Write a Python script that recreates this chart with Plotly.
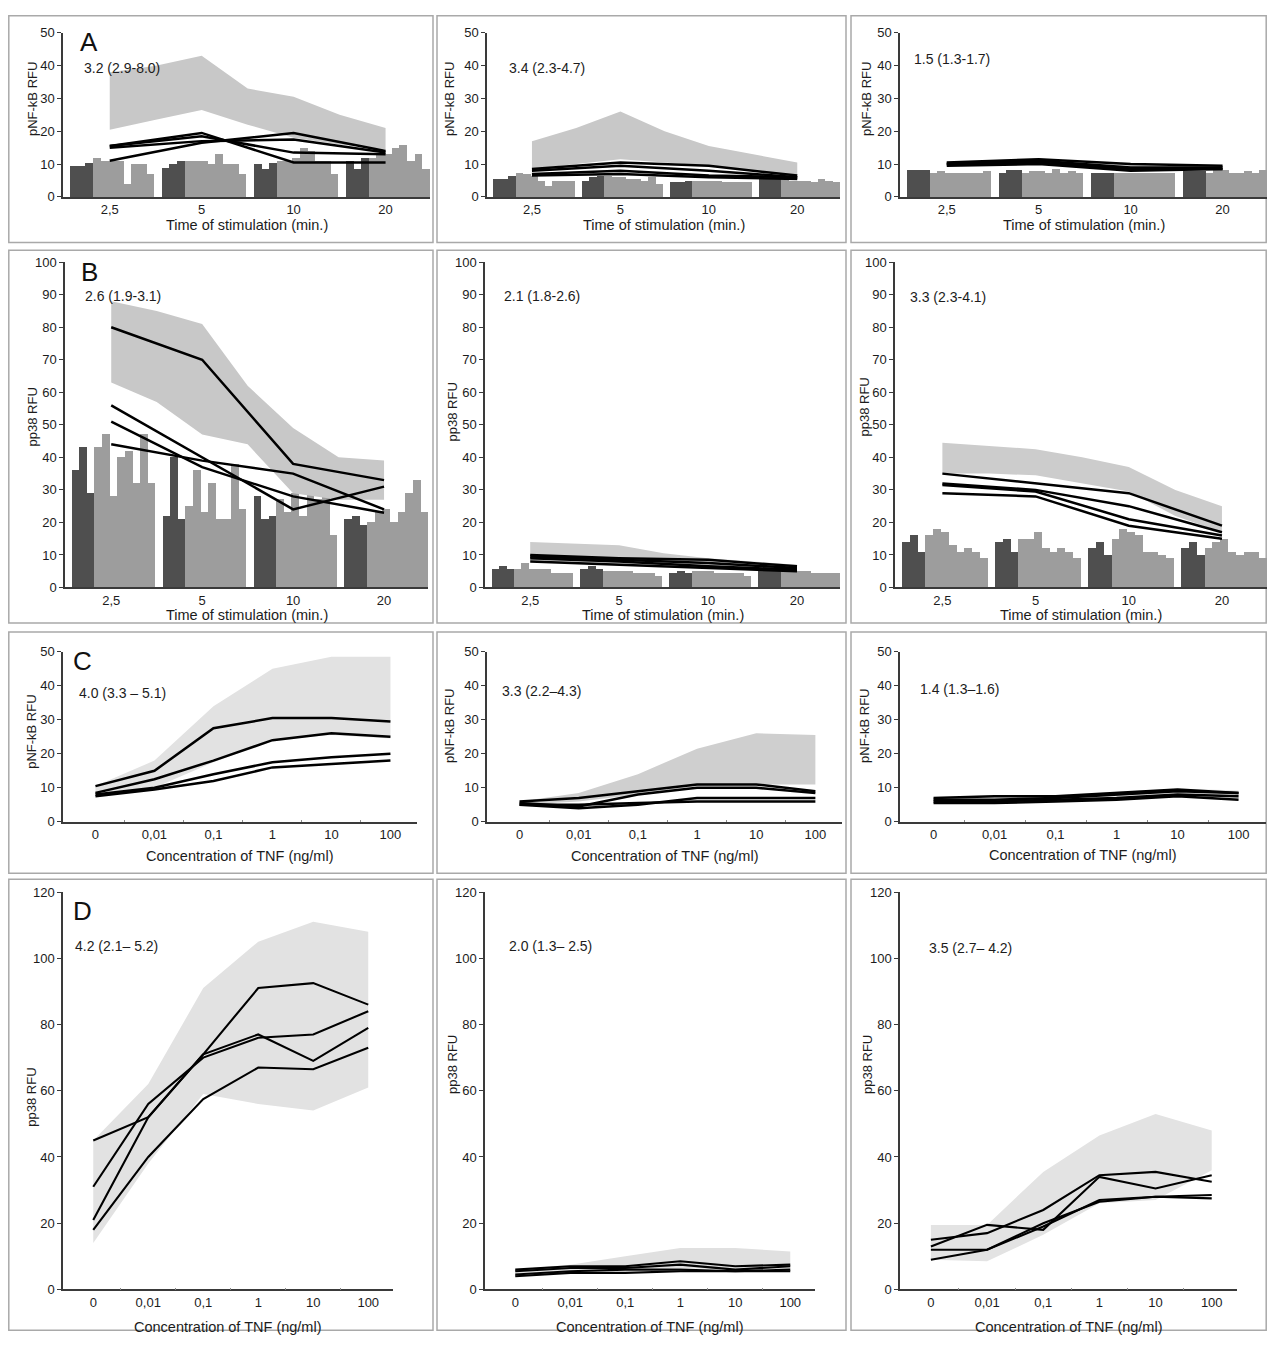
import plotly.graph_objects as go

PAGE_W, PAGE_H = 1275, 1347
OFF = 8                      # default body margin of the html page
W, H = PAGE_W - 2 * OFF, PAGE_H - 2 * OFF

# ---------------- shared labels ----------------
TIME_LABELS = ["2,5", "5", "10", "20"]
DOSE_LABELS = ["0", "0,01", "0,1", "1", "10", "100"]
TIME_T = [0, 1, 2, 3]
BAND_T = [0, 0.5, 1, 1.5, 2, 2.5, 3]
DOSE_X = [0, 1, 2, 3, 4, 5]
DOSE_MINOR = [0.5, 1.5, 2.5, 3.5, 4.5]
TITLE_TIME = "Time of stimulation (min.)"
TITLE_DOSE = "Concentration of TNF (ng/ml)"
YT_NFKB = "pNF-kB RFU"
YT_P38 = "pp38 RFU"

# ---------------- row A : pNF-kB, time course ----------------
A1_dark = [[9.5, 9.5, 10.5], [9, 10, 11], [10, 8.5, 10.5], [11, 8.5, 12]]
A1_light = [[12, 11, 11, 11, 4, 10, 10, 7], [11, 11, 11, 10, 13, 10, 10, 7],
            [11, 11, 12, 15, 14, 11, 11, 7], [12, 13, 13, 15, 16, 11, 13, 8.5]]
A1_upper = [38, 40, 43, 33, 30.5, 25, 21]
A1_lower = [20.5, 23.5, 26.5, 22, 18, 16, 14.5]
A1_lines = [[15.5, 19.5, 10.5, 10.5], [15.5, 18.5, 13.5, 13],
            [11, 16.5, 19.5, 14], [15, 17, 17.5, 13.5]]
A1_stat = "3.2 (2.9-8.0)"

A2_dark = [[5.5, 5.5, 6.5], [5, 6, 6.5], [4.5, 4.5, 5], [5.5, 5.5, 5.5]]
A2_light = [[7.5, 7, 6.5, 5, 3.5, 5, 5, 5], [6.5, 6, 6, 5.5, 5.5, 5, 6, 4],
            [5, 5, 5, 5, 4.5, 4.5, 4.5, 4.5], [5.5, 5, 5, 5, 4.5, 5.5, 5, 4.5]]
A2_upper = [17, 21, 26, 20, 15.5, 13, 10.5]
A2_lower = [8.5, 10, 11.5, 10.5, 9.5, 8, 6.5]
A2_lines = [[8.5, 10.5, 9.5, 6.5], [8, 9.5, 8, 6], [7, 8, 6.5, 6], [6.5, 7, 6, 5.5]]
A2_stat = "3.4 (2.3-4.7)"

A3_dark = [[8.3, 8.3, 8.3], [7.5, 8.3, 8.3], [7.5, 7.5, 7.5], [8, 8, 8]]
A3_light = [[7.5, 8, 7.5, 7.5, 7.5, 7.5, 7.5, 8], [7.5, 8, 8, 7.5, 8.5, 7.5, 8, 7.5],
            [7.5, 7.5, 7.5, 7.5, 7.5, 7.5, 7.5, 7.5], [7.5, 8.3, 8.3, 7.5, 7.5, 8, 7.5, 8.3]]
A3_upper = [10.7, 11.2, 11.7, 10.8, 10.1, 9.7, 9.6]
A3_lower = [9.6, 9.8, 10, 9, 8.2, 8.2, 8.6]
A3_lines = [[10.5, 11.5, 10, 9.5], [10, 11, 9, 9], [10, 10.5, 8.5, 8.5], [9.5, 10, 8, 8.5]]
A3_stat = "1.5 (1.3-1.7)"

# ---------------- row B : pp38, time course ----------------
B1_dark = [[36, 43, 29], [22, 40, 21], [28, 21, 22], [21, 22, 19]]
B1_light = [[43, 47, 28, 40, 42, 32, 47, 32], [25, 36, 23, 32, 21, 21, 38, 24],
            [27, 23, 29, 22, 29, 27, 29, 16], [20, 23, 24, 20, 23, 29, 33, 23]]
B1_upper = [88, 85, 81, 62, 49, 40, 39]
B1_lower = [63, 57, 47, 44, 29, 27, 27]
B1_lines = [[80, 70, 38, 33], [56, 40, 24, 31], [51, 37, 28, 23], [44, 39, 35, 24]]
B1_stat = "2.6 (1.9-3.1)"

B2_dark = [[5.5, 6.5, 5.5], [5.5, 6.5, 5.5], [4.5, 5, 4.5], [5, 5, 5]]
B2_light = [[5.5, 7.5, 5.5, 5.5, 5.5, 4.5, 4.5, 4.5], [5, 5, 5, 5, 4.5, 4.5, 4.5, 3.5],
            [5, 5, 5, 4.5, 4.5, 4.5, 4.5, 3.5], [5.5, 5.5, 5, 5, 4.5, 4.5, 4.5, 4.5]]
B2_upper = [14, 13.5, 13, 10.5, 9, 8, 7]
B2_lower = [8, 7.5, 7, 6.5, 6, 5.5, 5]
B2_lines = [[10, 9, 8.5, 6.5], [9.5, 8.5, 7.5, 6], [9, 8, 6.5, 5.5], [8, 7, 6, 5]]
B2_stat = "2.1 (1.8-2.6)"

B3_dark = [[14, 16, 11], [14, 15, 11], [12, 14, 10], [12, 14, 10]]
B3_light = [[16, 18, 17, 13, 11, 12, 11, 9], [15, 15, 17, 12, 11, 12, 11, 9],
            [15, 18, 17, 16, 11, 11, 10, 9], [12, 14, 15, 11, 10, 11, 11, 9]]
B3_upper = [44.5, 43.5, 42.5, 40, 37, 30, 25]
B3_lower = [35, 35, 34.5, 32, 29.5, 22, 17]
B3_lines = [[35, 32, 29, 19], [32, 30, 25, 17], [31.5, 29.5, 21, 16], [29, 28, 19, 15]]
B3_stat = "3.3 (2.3-4.1)"

# ---------------- row C : pNF-kB, TNF dose ----------------
C1_upper = [10.5, 18, 34, 45, 48.5, 48.5]
C1_lower = [8, 10, 17.5, 24, 25.5, 24.5]
C1_lines = [[10.5, 15, 27.5, 30.5, 30.5, 29.5], [8.5, 12.5, 18, 24, 26, 25],
            [8, 10, 14, 17.5, 19, 20], [7.5, 9.5, 12, 16, 17, 18]]
C1_stat = "4.0 (3.3 \u2013 5.1)"

C2_upper = [6, 8.5, 14, 21.5, 26, 25.5]
C2_lower = [5, 6, 8, 10.5, 11, 11]
C2_lines = [[6, 7, 9, 11, 11, 9], [5.5, 4.5, 8, 10, 10, 8.5],
            [5, 4, 5, 7, 7, 7], [5, 5, 5.5, 6, 6, 6]]
C2_stat = "3.3 (2.2\u20134.3)"

C3_upper = [7.3, 7.8, 7.8, 8.8, 9.8, 9.2]
C3_lower = [5.8, 5.8, 6.2, 6.8, 7.8, 6.8]
C3_lines = [[7, 7.5, 7.5, 8.5, 9.5, 8.5], [6.5, 6.5, 7, 8, 9, 8.5],
            [6, 6, 6.5, 7, 8, 7.5], [5.5, 5.5, 6, 6.5, 7.5, 6.5]]
C3_stat = "1.4 (1.3\u20131.6)"

# ---------------- row D : pp38, TNF dose ----------------
D1_upper = [45, 62, 91, 105, 111, 108]
D1_lower = [14, 38, 59, 56, 54, 61]
D1_lines = [[45, 52, 71, 91, 92.5, 86], [31, 56, 70, 76, 77, 84],
            [21, 52, 71, 77, 69, 79], [18, 40, 57.5, 67, 66.5, 73]]
D1_stat = "4.2 (2.1\u2013 5.2)"

D2_upper = [6, 7.5, 10, 12.5, 12.5, 11.5]
D2_lower = [4, 5, 6, 6.5, 6, 6]
D2_lines = [[6, 7, 7, 8.5, 7, 7.5], [5.5, 6.5, 6.5, 7.5, 6, 7],
            [4.5, 5.5, 6, 6, 5.5, 6], [4, 5, 5, 5.5, 5.5, 5.5]]
D2_stat = "2.0 (1.3\u2013 2.5)"

D3_upper = [19.5, 19.5, 35.5, 46.5, 53, 48]
D3_lower = [9, 8.5, 16.5, 26, 27, 36]
D3_lines = [[15, 17, 24, 34.5, 35.5, 32.5], [13, 19.5, 18, 34, 30.5, 34.5],
            [12, 12, 19, 27, 28, 28.5], [9, 12, 20, 26.5, 28, 27.5]]
D3_stat = "3.5 (2.7\u2013 4.2)"

# ---------------- styling / geometry (page pixel coordinates) ----------------
FONT = "Liberation Sans, Arial, Helvetica, sans-serif"
TXT = "#1c1c1c"
DARK_BAR = "#4f4f4f"
LIGHT_BAR = "#9d9d9d"

panels = [
    dict(kind="time", dark=A1_dark, light=A1_light, up=A1_upper, lo=A1_lower, lines=A1_lines,
         stat=A1_stat, ymax=50, dtick=10, band="#c8c8c8", rect=(63, 430, 26, 192), yt=YT_NFKB,
         letter="A", stat_xy=(82, 62), ytxy=(32, 93), xt=TITLE_TIME, xty=220),
    dict(kind="time", dark=A2_dark, light=A2_light, up=A2_upper, lo=A2_lower, lines=A2_lines,
         stat=A2_stat, ymax=50, dtick=10, band="#c8c8c8", rect=(487, 840, 26, 192), yt=YT_NFKB,
         letter=None, stat_xy=(507, 62), ytxy=(449, 93), xt=TITLE_TIME, xty=220),
    dict(kind="time", dark=A3_dark, light=A3_light, up=A3_upper, lo=A3_lower, lines=A3_lines,
         stat=A3_stat, ymax=50, dtick=10, band="#d4d4d4", rect=(900, 1267, 26, 192), yt=YT_NFKB,
         letter=None, stat_xy=(912, 53), ytxy=(866, 93), xt=TITLE_TIME, xty=220),
    dict(kind="time", dark=B1_dark, light=B1_light, up=B1_upper, lo=B1_lower, lines=B1_lines,
         stat=B1_stat, ymax=100, dtick=10, band="#c8c8c8", rect=(65, 428, 258, 587), yt=YT_P38,
         letter="B", stat_xy=(83, 292), ytxy=(32, 415), xt=TITLE_TIME, xty=615),
    dict(kind="time", dark=B2_dark, light=B2_light, up=B2_upper, lo=B2_lower, lines=B2_lines,
         stat=B2_stat, ymax=100, dtick=10, band="#cccccc", rect=(485, 840, 258, 587), yt=YT_P38,
         letter=None, stat_xy=(502, 292), ytxy=(452, 410), xt=TITLE_TIME, xty=615),
    dict(kind="time", dark=B3_dark, light=B3_light, up=B3_upper, lo=B3_lower, lines=B3_lines,
         stat=B3_stat, ymax=100, dtick=10, band="#cccccc", rect=(895, 1267, 258, 587), yt=YT_P38,
         letter=None, stat_xy=(908, 293), ytxy=(865, 405), xt=TITLE_TIME, xty=615),
    dict(kind="dose", up=C1_upper, lo=C1_lower, lines=C1_lines,
         stat=C1_stat, ymax=50, dtick=10, band="#e2e2e2", rect=(63, 417, 652, 824), yt=YT_NFKB,
         letter="C", stat_xy=(77, 694), ytxy=(32, 733), xt=TITLE_DOSE, xty=859),
    dict(kind="dose", up=C2_upper, lo=C2_lower, lines=C2_lines,
         stat=C2_stat, ymax=50, dtick=10, band="#cfcfcf", rect=(487, 842, 652, 824), yt=YT_NFKB,
         letter=None, stat_xy=(500, 692), ytxy=(450, 727), xt=TITLE_DOSE, xty=859),
    dict(kind="dose", up=C3_upper, lo=C3_lower, lines=C3_lines,
         stat=C3_stat, ymax=50, dtick=10, band="#e6e6e6", rect=(900, 1266, 652, 824), yt=YT_NFKB,
         letter=None, stat_xy=(918, 690), ytxy=(865, 727), xt=TITLE_DOSE, xty=858),
    dict(kind="dose", up=D1_upper, lo=D1_lower, lines=D1_lines,
         stat=D1_stat, ymax=120, dtick=20, band="#e2e2e2", rect=(63, 393, 895, 1297), yt=YT_P38,
         letter="D", stat_xy=(73, 950), ytxy=(32, 1103), xt=TITLE_DOSE, xty=1335),
    dict(kind="dose", up=D2_upper, lo=D2_lower, lines=D2_lines,
         stat=D2_stat, ymax=120, dtick=20, band="#e0e0e0", rect=(485, 815, 895, 1297), yt=YT_P38,
         letter=None, stat_xy=(507, 950), ytxy=(452, 1070), xt=TITLE_DOSE, xty=1335),
    dict(kind="dose", up=D3_upper, lo=D3_lower, lines=D3_lines,
         stat=D3_stat, ymax=120, dtick=20, band="#e3e3e3", rect=(900, 1237, 895, 1297), yt=YT_P38,
         letter=None, stat_xy=(927, 952), ytxy=(867, 1070), xt=TITLE_DOSE, xty=1335),
]

letter_pos = {"A": (78, 35), "B": (79, 268), "C": (71, 661), "D": (71, 914)}
boxes_x = [(8.8, 433), (437, 846), (851, 1266.2)]
boxes_y = [(8.8, 238), (246, 623), (632, 876), (882, 1338.2)]


def clamp(v):
    return max(0.0, min(1.0, v))


def px(x):
    return (x - OFF) / W


def py(y):
    return 1 - (y - OFF) / H


def slot(t):
    return 12 * t + 4.7


fig = go.Figure()
annotations = []
shapes = []
layout_axes = {}

for i, p in enumerate(panels, start=1):
    xa = "x" if i == 1 else f"x{i}"
    ya = "y" if i == 1 else f"y{i}"
    x0, x1, y0, y1 = p["rect"]

    if p["kind"] == "time":
        dx, dy, lx, ly = [], [], [], []
        for g in range(4):
            for k, v in enumerate(p["dark"][g]):
                dx.append(12 * g + k)
                dy.append(v)
            for k, v in enumerate(p["light"][g]):
                lx.append(12 * g + 3 + k)
                ly.append(v)
        fig.add_trace(go.Bar(x=dx, y=dy, width=1.04, marker=dict(color=DARK_BAR, line=dict(width=0)),
                             xaxis=xa, yaxis=ya, showlegend=False, hoverinfo="skip"))
        fig.add_trace(go.Bar(x=lx, y=ly, width=1.04, marker=dict(color=LIGHT_BAR, line=dict(width=0)),
                             xaxis=xa, yaxis=ya, showlegend=False, hoverinfo="skip"))
        bx = [slot(t) for t in BAND_T]
        lxs = [slot(t) for t in TIME_T]
        xrange = [-1.4, 46.5]
        tickvals = lxs
        ticktext = TIME_LABELS
        minor = None
        lw = 2.5
    else:
        bx = list(DOSE_X)
        lxs = list(DOSE_X)
        xrange = [-0.55, 5.45]
        tickvals = DOSE_X
        ticktext = DOSE_LABELS
        minor = dict(tickmode="array", tickvals=DOSE_MINOR, ticks="inside", ticklen=2,
                     tickwidth=1, tickcolor="#8a8a8a", showgrid=False)
        lw = 2.5 if p["ymax"] == 50 else 2.1

    fig.add_trace(go.Scatter(x=bx + bx[::-1], y=p["up"] + p["lo"][::-1], fill="toself",
                             fillcolor=p["band"], line=dict(width=0), mode="lines",
                             xaxis=xa, yaxis=ya, showlegend=False, hoverinfo="skip"))
    for ln in p["lines"]:
        fig.add_trace(go.Scatter(x=lxs, y=ln, mode="lines", line=dict(color="black", width=lw),
                                 xaxis=xa, yaxis=ya, showlegend=False))

    sfx = "" if i == 1 else str(i)
    xax = dict(
        domain=[clamp(px(x0)), clamp(px(x1))], anchor=ya, range=xrange, tickvals=tickvals,
        ticktext=ticktext, ticks="", showline=True, linecolor="#3a3a3a", linewidth=1.5,
        showgrid=False, zeroline=False, tickfont=dict(family=FONT, size=13, color=TXT),
        fixedrange=True)
    if minor:
        xax["minor"] = minor
    layout_axes[f"xaxis{sfx}"] = xax
    layout_axes[f"yaxis{sfx}"] = dict(
        domain=[clamp(py(y1)), clamp(py(y0))], anchor=xa, range=[0, p["ymax"]],
        tickvals=list(range(0, p["ymax"] + 1, p["dtick"])),
        ticks="outside", ticklen=4, tickwidth=1.2, tickcolor="#3a3a3a",
        showline=True, linecolor="#3a3a3a", linewidth=1.5, showgrid=False, zeroline=False,
        tickfont=dict(family=FONT, size=13, color=TXT), fixedrange=True)

    annotations.append(dict(x=px(p["stat_xy"][0]), y=py(p["stat_xy"][1]), xref="paper", yref="paper",
                            text=p["stat"], showarrow=False, xanchor="left", yanchor="middle",
                            font=dict(family=FONT, size=14, color=TXT)))
    annotations.append(dict(x=px(p["ytxy"][0]), y=py(p["ytxy"][1]), xref="paper", yref="paper",
                            text=p["yt"], textangle=-90, showarrow=False,
                            xanchor="center", yanchor="middle",
                            font=dict(family=FONT, size=13, color=TXT)))
    annotations.append(dict(x=px((x0 + x1) / 2), y=py(p["xty"]), xref="paper", yref="paper",
                            text=p["xt"], showarrow=False, xanchor="center", yanchor="middle",
                            font=dict(family=FONT, size=14.5, color=TXT)))
    if p["letter"]:
        lx_, ly_ = letter_pos[p["letter"]]
        annotations.append(dict(x=px(lx_), y=py(ly_), xref="paper", yref="paper", text=p["letter"],
                                showarrow=False, xanchor="left", yanchor="middle",
                                font=dict(family=FONT, size=26, color="#111111")))

for (by0, by1) in boxes_y:
    for (bx0, bx1) in boxes_x:
        shapes.append(dict(type="rect", xref="paper", yref="paper", x0=px(bx0), x1=px(bx1),
                           y0=py(by1), y1=py(by0), line=dict(color="#a9a9a9", width=1.5),
                           layer="below"))

fig.update_layout(
    width=W, height=H, margin=dict(l=0, r=0, t=0, b=0),
    paper_bgcolor="white", plot_bgcolor="white",
    barmode="overlay", bargap=0, showlegend=False,
    annotations=annotations, shapes=shapes, **layout_axes)

fig.write_html("out.html", config={"displayModeBar": False})
